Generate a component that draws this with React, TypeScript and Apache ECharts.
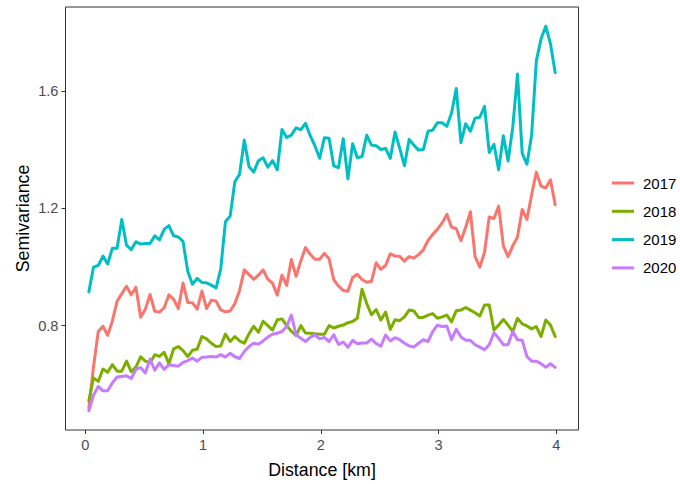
import React, { useEffect, useRef } from "react";
import * as echarts from "echarts";

// Lag distances (km) of the empirical variogram bins
const distance = [
  0.03, 0.07, 0.11, 0.15, 0.19, 0.23, 0.27, 0.31, 0.35, 0.39,
  0.43, 0.47, 0.51, 0.55, 0.59, 0.63, 0.67, 0.71, 0.75, 0.79,
  0.83, 0.87, 0.91, 0.95, 0.99, 1.03, 1.07, 1.11, 1.15, 1.19,
  1.23, 1.27, 1.31, 1.35, 1.39, 1.43, 1.47, 1.51, 1.55, 1.59,
  1.63, 1.67, 1.71, 1.75, 1.79, 1.83, 1.87, 1.91, 1.95, 1.99,
  2.03, 2.07, 2.11, 2.15, 2.19, 2.23, 2.27, 2.31, 2.35, 2.39,
  2.43, 2.47, 2.51, 2.55, 2.59, 2.63, 2.67, 2.71, 2.75, 2.79,
  2.83, 2.87, 2.91, 2.95, 2.99, 3.03, 3.07, 3.11, 3.15, 3.19,
  3.23, 3.27, 3.31, 3.35, 3.39, 3.43, 3.47, 3.51, 3.55, 3.59,
  3.63, 3.67, 3.71, 3.75, 3.79, 3.83, 3.87, 3.91, 3.95, 3.99,
];

const semi2017 = [
  0.52, 0.66, 0.78, 0.798, 0.767, 0.816, 0.883, 0.909, 0.934, 0.905,
  0.931, 0.829, 0.856, 0.906, 0.849, 0.846, 0.861, 0.905, 0.89, 0.858,
  0.945, 0.879, 0.878, 0.856, 0.918, 0.858, 0.887, 0.884, 0.854, 0.847,
  0.85, 0.875, 0.92, 0.99, 0.974, 0.958, 0.972, 0.99, 0.958, 0.945,
  0.904, 0.972, 0.937, 1.025, 0.968, 1.02, 1.066, 1.043, 1.026, 1.026,
  1.046, 1.028, 0.957, 0.935, 0.92, 0.917, 0.964, 0.975, 0.957, 0.948,
  0.951, 1.014, 0.992, 1.005, 1.045, 1.037, 1.036, 1.02, 1.035, 1.03,
  1.042, 1.058, 1.09, 1.111, 1.128, 1.15, 1.179, 1.136, 1.13, 1.089,
  1.135, 1.188, 1.035, 0.999, 1.05, 1.17, 1.165, 1.207, 1.072, 1.035,
  1.072, 1.102, 1.196, 1.162, 1.246, 1.323, 1.275, 1.269, 1.297, 1.212,
];

const semi2018 = [
  0.544, 0.622, 0.61, 0.652, 0.641, 0.667, 0.645, 0.645, 0.679, 0.643,
  0.659, 0.694, 0.679, 0.673, 0.701, 0.695, 0.709, 0.67, 0.721, 0.729,
  0.715, 0.695, 0.716, 0.72, 0.763, 0.755, 0.74, 0.729, 0.731, 0.771,
  0.746, 0.763, 0.748, 0.74, 0.772, 0.798, 0.777, 0.815, 0.8, 0.785,
  0.82, 0.823, 0.8, 0.781, 0.766, 0.8, 0.775, 0.774, 0.772, 0.771,
  0.771, 0.8, 0.792, 0.798, 0.802, 0.81, 0.814, 0.825, 0.924, 0.875,
  0.837, 0.855, 0.819, 0.846, 0.787, 0.82, 0.817, 0.83, 0.853, 0.85,
  0.828, 0.828, 0.836, 0.841, 0.825, 0.83, 0.836, 0.813, 0.851, 0.853,
  0.862, 0.853, 0.844, 0.833, 0.87, 0.87, 0.785, 0.802, 0.821, 0.802,
  0.78, 0.825, 0.806, 0.799, 0.789, 0.797, 0.763, 0.819, 0.802, 0.763,
];

const semi2019 = [
  0.915, 0.999, 1.005, 1.037, 1.01, 1.064, 1.064, 1.162, 1.074, 1.059,
  1.086, 1.078, 1.08, 1.08, 1.106, 1.092, 1.128, 1.141, 1.106, 1.102,
  1.087, 0.985, 0.941, 0.961, 0.947, 0.946, 0.938, 0.928, 0.993, 1.154,
  1.173, 1.29, 1.316, 1.432, 1.342, 1.323, 1.362, 1.372, 1.34, 1.362,
  1.331, 1.468, 1.441, 1.449, 1.474, 1.468, 1.489, 1.447, 1.412, 1.37,
  1.44, 1.438, 1.344, 1.338, 1.437, 1.3, 1.42, 1.372, 1.376, 1.449,
  1.415, 1.413, 1.4, 1.404, 1.37, 1.46, 1.404, 1.345, 1.434, 1.415,
  1.398, 1.4, 1.462, 1.466, 1.491, 1.491, 1.479, 1.524, 1.608, 1.423,
  1.488, 1.462, 1.507, 1.51, 1.547, 1.39, 1.418, 1.331, 1.447, 1.361,
  1.477, 1.657, 1.387, 1.35, 1.449, 1.702, 1.777, 1.82, 1.76, 1.662,
];

const semi2020 = [
  0.51, 0.563, 0.593, 0.578, 0.578, 0.605, 0.625, 0.627, 0.629, 0.62,
  0.651, 0.657, 0.639, 0.686, 0.648, 0.673, 0.651, 0.667, 0.664, 0.662,
  0.675, 0.681, 0.69, 0.679, 0.692, 0.693, 0.695, 0.693, 0.701, 0.693,
  0.706, 0.694, 0.688, 0.712, 0.729, 0.74, 0.737, 0.748, 0.761, 0.771,
  0.774, 0.78, 0.797, 0.836, 0.769, 0.757, 0.746, 0.76, 0.769, 0.755,
  0.76, 0.746, 0.769, 0.736, 0.744, 0.726, 0.75, 0.738, 0.741, 0.741,
  0.754, 0.739, 0.73, 0.768, 0.748, 0.759, 0.752, 0.74, 0.731, 0.727,
  0.74, 0.752, 0.746, 0.78, 0.802, 0.797, 0.799, 0.752, 0.788, 0.761,
  0.75, 0.75, 0.735, 0.727, 0.718, 0.735, 0.776, 0.757, 0.735, 0.735,
  0.78, 0.752, 0.75, 0.695, 0.679, 0.679, 0.67, 0.658, 0.67, 0.658,
];

const years = ["2017", "2018", "2019", "2020"];
const yearValues = [semi2017, semi2018, semi2019, semi2020];
const yearColors = ["#F8766D", "#7CAE00", "#00BFC4", "#C77CFF"];

const xTicks = [0, 1, 2, 3, 4];
const yTicks = [0.8, 1.2, 1.6];

const FONT = "'Liberation Sans', Arial, Helvetica, sans-serif";

export default function App() {
  const ref = useRef<HTMLDivElement>(null);

  useEffect(() => {
    if (!ref.current) return;
    const chart = echarts.init(ref.current, null, { renderer: "svg" });

    const series = years.map((year, k) => ({
      name: year,
      type: "line" as const,
      data: distance.map((d, i) => [d, yearValues[k][i]]),
      showSymbol: false,
      symbol: "none",
      silent: true,
      lineStyle: { color: yearColors[k], width: 3, cap: "round", join: "round" },
      itemStyle: { color: yearColors[k] },
      emphasis: { disabled: true },
    }));

    chart.setOption({
      animation: false,
      backgroundColor: "#ffffff",
      textStyle: { fontFamily: FONT },
      grid: {
        left: 65.5,
        top: 7,
        width: 513,
        height: 428,
        show: true,
        borderColor: "#333333",
        borderWidth: 1,
        backgroundColor: "transparent",
      },
      legend: {
        orient: "vertical",
        left: 607,
        top: 170,
        icon: "rect",
        itemWidth: 22,
        itemHeight: 3,
        itemGap: 12.3,
        selectedMode: false,
        data: years,
        textStyle: {
          fontFamily: FONT,
          fontSize: 15,
          color: "#000000",
          lineHeight: 16,
          padding: [0, 0, 0, 4],
        },
      },
      xAxis: {
        type: "value",
        min: -0.168,
        max: 4.188,
        name: "Distance [km]",
        nameLocation: "middle",
        nameGap: 31,
        nameMoveOverlap: false,
        nameTextStyle: { fontFamily: FONT, fontSize: 17.8, color: "#000000" },
        axisLine: { show: false, onZero: false },
        splitLine: { show: false },
        axisTick: {
          show: true,
          length: 4,
          customValues: xTicks,
          lineStyle: { color: "#333333", width: 1 },
        },
        axisLabel: {
          customValues: xTicks,
          margin: 7,
          fontFamily: FONT,
          fontSize: 14.6,
          color: "#4D4D4D",
          formatter: (v: number) => String(v),
        },
      },
      yAxis: {
        type: "value",
        min: 0.4445,
        max: 1.8855,
        name: "Semivariance",
        nameLocation: "middle",
        nameGap: 34,
        nameMoveOverlap: false,
        nameTextStyle: { fontFamily: FONT, fontSize: 17.8, color: "#000000" },
        axisLine: { show: false, onZero: false },
        splitLine: { show: false },
        axisTick: {
          show: true,
          length: 4,
          customValues: yTicks,
          lineStyle: { color: "#333333", width: 1 },
        },
        axisLabel: {
          customValues: yTicks,
          margin: 7,
          fontFamily: FONT,
          fontSize: 14.6,
          color: "#4D4D4D",
          formatter: (v: number) => v.toFixed(1),
        },
      },
      series,
    });

    return () => chart.dispose();
  }, []);

  return (
    <div
      ref={ref}
      style={{ position: "fixed", left: 0, top: 0, width: 680, height: 484, background: "#fff" }}
    />
  );
}
